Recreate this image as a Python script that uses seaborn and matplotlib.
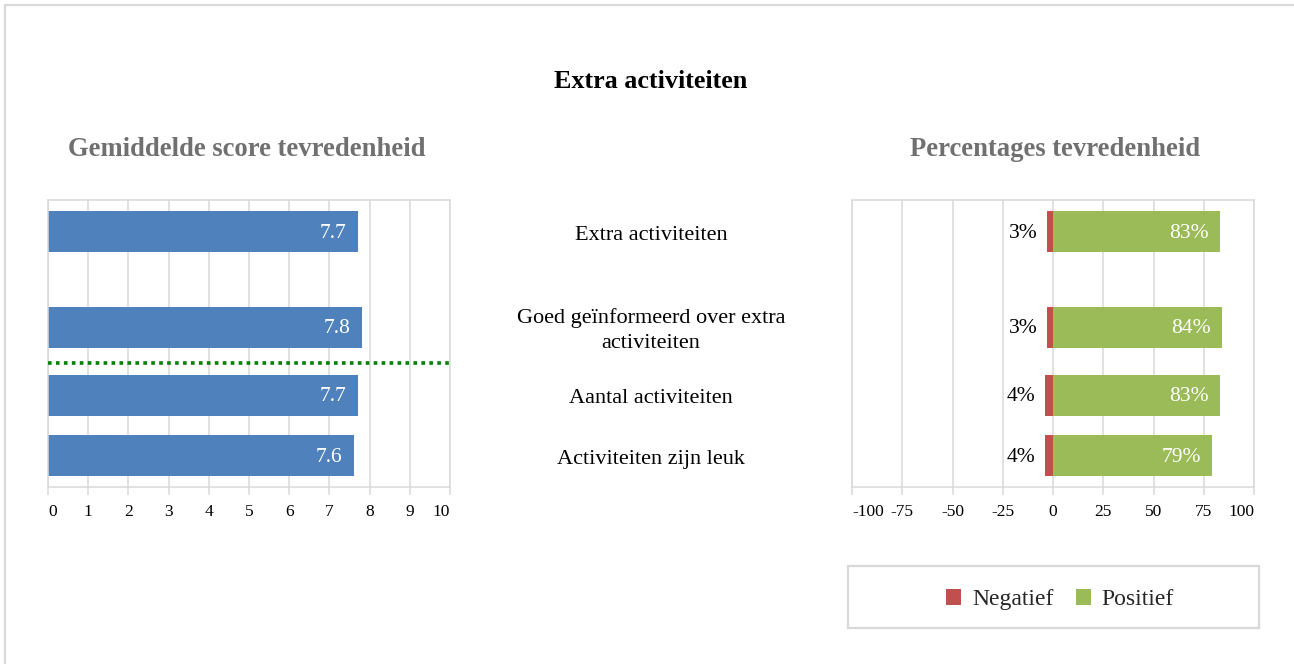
import numpy as np
import pandas as pd
import matplotlib
matplotlib.use("Agg")
import matplotlib.pyplot as plt
import matplotlib.transforms as mtransforms
from matplotlib.patches import Rectangle, Patch
import seaborn as sns

# ---- data ----
categories = [
    "Extra activiteiten",
    "Goed geïnformeerd over extra\nactiviteiten",
    "Aantal activiteiten",
    "Activiteiten zijn leuk",
]
mean_scores = [7.7, 7.8, 7.7, 7.6]
pct_negative = [3, 3, 4, 4]
pct_positive = [83, 84, 83, 79]
score_ticks = list(range(0, 11))
pct_ticks = [-100, -75, -50, -25, 0, 25, 50, 75, 100]

# ---- layout (row centres in bar-height units, top to bottom) ----
row_pos = [0.78, 3.10, 4.76, 6.24]
separator_pos = 3.98
y_span = (7.0, 0.0)

BLUE = "#4f81bd"
RED = "#c0504d"
GREEN = "#9bbb59"
GRID = "#d9d9d9"
SUBTITLE = "#707070"

sns.set_theme(style="white")
plt.rcParams["font.family"] = ["Liberation Serif", "DejaVu Serif"]

W, H = 1294, 664
fig = plt.figure(figsize=(W / 100, H / 100), dpi=100)


def fx(px):
    return px / W


def fy(py):
    return 1 - py / H


axL = fig.add_axes([fx(48), fy(487), fx(450) - fx(48), fy(200) - fy(487)])
axR = fig.add_axes([fx(852), fy(487), fx(1254) - fx(852), fy(200) - fy(487)])

bar_w = 1.0 / np.min(np.diff(sorted(row_pos)))

df = pd.DataFrame({
    "row": row_pos,
    "score": mean_scores,
    "neg": [-v for v in pct_negative],
    "pos": pct_positive,
})

bar_kw = dict(orient="h", native_scale=True, saturation=1, width=bar_w,
              errorbar=None, linewidth=0, edgecolor="none")
# left panel: mean satisfaction scores
sns.barplot(data=df, x="score", y="row", color=BLUE, ax=axL, **bar_kw)
# right panel: negative / positive percentages
sns.barplot(data=df, x="neg", y="row", color=RED, ax=axR, **bar_kw)
sns.barplot(data=df, x="pos", y="row", color=GREEN, ax=axR, **bar_kw)

for ax, lim, ticks in ((axL, (0, 10), score_ticks), (axR, (-100, 100), pct_ticks)):
    ax.set_xlim(*lim)
    ax.set_ylim(*y_span)
    ax.set_xticks(ticks)
    labels = ax.set_xticklabels([str(t) for t in ticks], fontsize=12.5,
                                color="#000000")
    # keep the outermost labels inside the plot width
    labels[0].set_horizontalalignment("left")
    labels[-1].set_horizontalalignment("right")
    ax.set_yticks([])
    ax.set_xlabel("")
    ax.set_ylabel("")
    ax.grid(axis="x", color=GRID, linewidth=1.1)
    ax.set_axisbelow(True)
    for sp in ax.spines.values():
        sp.set_visible(True)
        sp.set_color(GRID)
        sp.set_linewidth(1.1)
    ax.tick_params(axis="x", bottom=True, direction="out", length=6,
                   width=1.1, color=GRID, pad=6)
    ax.patch.set_alpha(0)

# separator line in the left panel
axL.axhline(separator_pos, color="#008000", linestyle=(0, (1, 1.2)),
            linewidth=2.6, zorder=5)

# value labels
for y, v in zip(row_pos, mean_scores):
    axL.annotate(f"{v:.1f}", (v, y), xytext=(-8, -1), textcoords="offset points",
                 ha="right", va="center", color="white", fontsize=15.5)
for y, n, p in zip(row_pos, pct_negative, pct_positive):
    axR.annotate(f"{n}%", (-n, y), xytext=(-7, -1), textcoords="offset points",
                 ha="right", va="center", color="#000000", fontsize=15.5)
    axR.annotate(f"{p}%", (p, y), xytext=(-8, -1), textcoords="offset points",
                 ha="right", va="center", color="white", fontsize=15.5)

# category labels between the panels
tr = mtransforms.offset_copy(
    mtransforms.blended_transform_factory(fig.transFigure, axL.transData),
    fig=fig, x=0, y=-3.5, units="dots")
for y, c in zip(row_pos, categories):
    fig.text(fx(651), y, c, transform=tr, ha="center", va="center",
             fontsize=16, color="#000000", linespacing=1.4)

# titles
fig.text(fx(651), fy(81), "Extra activiteiten", ha="center", va="center",
         fontsize=18.8, fontweight="bold", color="#000000")
fig.text(fx(246.5), fy(149.5), "Gemiddelde score tevredenheid", ha="center",
         va="center", fontsize=19.2, fontweight="bold", color=SUBTITLE)
fig.text(fx(1055), fy(149.5), "Percentages tevredenheid", ha="center",
         va="center", fontsize=19.2, fontweight="bold", color=SUBTITLE)

# legend in its own box
fig.patches.append(Rectangle((fx(848), fy(628)), fx(1259) - fx(848), fy(566) - fy(628),
                             transform=fig.transFigure, fill=False,
                             edgecolor=GRID, linewidth=1.6))
handles = [Patch(facecolor=RED, edgecolor="none", label="Negatief"),
           Patch(facecolor=GREEN, edgecolor="none", label="Positief")]
fig.legend(handles=handles, loc="center", bbox_to_anchor=(fx(1060), fy(599.5)),
           ncol=2, frameon=False, fontsize=17, handlelength=0.65,
           handleheight=0.65, handletextpad=0.45, columnspacing=0.95)

# outer frame
fig.patches.append(Rectangle((fx(5), -0.1), 1.2, fy(5) + 0.1,
                             transform=fig.transFigure, fill=False,
                             edgecolor=GRID, linewidth=1.6))

fig.savefig("out.png", dpi=100)
